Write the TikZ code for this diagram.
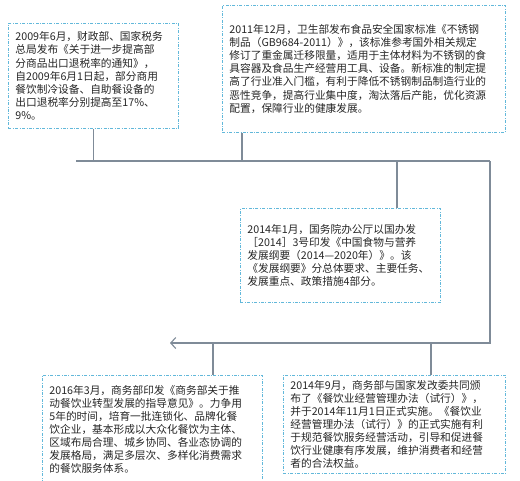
\documentclass[tikz,border=0pt]{standalone}
\usepackage{fontspec}
\setmainfont{Noto Sans CJK SC}
\usetikzlibrary{arrows.meta}
\definecolor{kuang}{HTML}{62B8DA}
\definecolor{xian}{HTML}{7F8B98}
\definecolor{wenzi}{HTML}{262626}
\tikzset{
  shijian/.style={draw=kuang, line width=0.8pt,
    dash pattern=on 3pt off 1.5pt on 0.8pt off 1.5pt,
    anchor=north west, align=left, inner xsep=7pt, inner ysep=0pt,
    text=wenzi, font=\fontsize{10.7}{13.1}\selectfont},
  lianxian/.style={draw=xian, line width=1.1pt}
}
\begin{document}
\begin{tikzpicture}[x=1pt,y=-1pt]
\useasboundingbox (0,0) rectangle (520,480);
% 2009年 出口退税
\node[shijian, text width=156pt, minimum height=105pt] (a) at (8,23)
{2009年6月，财政部、国家税务\\
总局发布《关于进一步提高部\\
分商品出口退税率的通知》，\\
自2009年6月1日起，部分商用\\
餐饮制冷设备、自助餐设备的\\
出口退税率分别提高至17\%、\\
9\%。};
% 2011年 不锈钢标准
\node[shijian, text width=269pt, minimum height=127pt] (b) at (222,5)
{2011年12月，卫生部发布食品安全国家标准《不锈钢\\
制品（GB9684-2011）》，该标准参考国外相关规定\\
修订了重金属迁移限量，适用于主体材料为不锈钢的食\\
具容器及食品生产经营用工具、设备。新标准的制定提\\
高了行业准入门槛，有利于降低不锈钢制品制造行业的\\
恶性竞争，提高行业集中度，淘汰落后产能，优化资源\\
配置，保障行业的健康发展。};
% 2014年1月 营养纲要
\node[shijian, text width=186pt, minimum height=94pt] (c) at (240,208)
{2014年1月，国务院办公厅以国办发\\
［2014］3号印发《中国食物与营养\\
发展纲要（2014—2020年）》。该\\
《发展纲要》分总体要求、主要任务、\\
发展重点、政策措施4部分。};
% 2016年 转型发展
\node[shijian, text width=206pt, minimum height=108pt] (d) at (42,375)
{2016年3月，商务部印发《商务部关于推\\
动餐饮业转型发展的指导意见》。力争用\\
5年的时间，培育一批连锁化、品牌化餐\\
饮企业，基本形成以大众化餐饮为主体、\\
区域布局合理、城乡协同、各业态协调的\\
发展格局，满足多层次、多样化消费需求\\
的餐饮服务体系。};
% 2014年9月 经营管理办法
\node[shijian, text width=208pt, minimum height=98pt] (e) at (283,375)
{2014年9月，商务部与国家发改委共同颁\\
布了《餐饮业经营管理办法（试行）》，\\
并于2014年11月1日正式实施。《餐饮业\\
经营管理办法（试行）》的正式实施有利\\
于规范餐饮服务经营活动，引导和促进餐\\
饮行业健康有序发展，维护消费者和经营\\
者的合法权益。};
% 连接线
\coordinate (zuo) at (76,161);
\coordinate (you) at (490,161);
\coordinate (youxia) at (490,343);
\coordinate (jian) at (170,343);
\coordinate (bx) at ([xshift=20pt]b.south west);
\coordinate (cx) at ([xshift=157pt]c.north west);
\coordinate (dx) at ([xshift=171pt]d.north west);
\coordinate (ex) at ([xshift=148pt]e.north west);
\draw[lianxian] (zuo) -- (you);
\draw[lianxian, -{Straight Barb[length=5pt,width=11pt]}] (you) -- (youxia) -- (jian);
\draw[lianxian] (a.south) -- (a.south |- zuo);
\draw[lianxian] (bx) -- (bx |- zuo);
\draw[lianxian] (cx |- zuo) -- (cx);
\draw[lianxian] (dx |- jian) -- (dx);
\draw[lianxian] (ex |- jian) -- (ex);
\end{tikzpicture}
\end{document}
